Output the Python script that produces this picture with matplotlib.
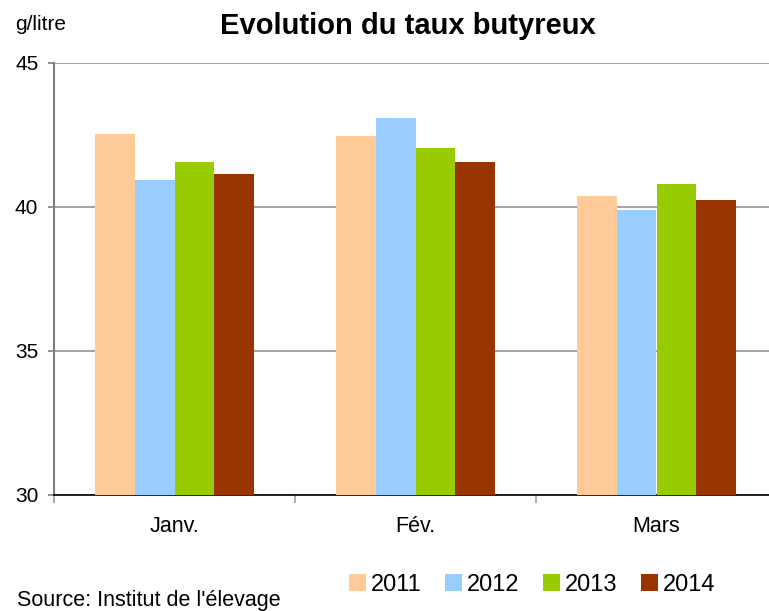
import matplotlib
matplotlib.use("Agg")
import matplotlib.pyplot as plt
import numpy as np
from matplotlib.patches import Patch

plt.rcParams['font.family'] = ['Liberation Sans', 'DejaVu Sans']

categories = ["Janv.", "Fév.", "Mars"]
years = ["2011", "2012", "2013", "2014"]
v2011 = [42.53, 42.47, 40.38]
v2012 = [40.94, 43.09, 39.90]
v2013 = [41.56, 42.05, 40.80]
v2014 = [41.15, 41.56, 40.24]
series = [v2011, v2012, v2013, v2014]
colors = ["#FFCC99", "#99CCFF", "#99CC00", "#993300"]

W, H = 769, 611
fig = plt.figure(figsize=(W / 100, H / 100), dpi=100)
ax = fig.add_axes([54 / W, (H - 495) / H, 723 / W, 432 / H])

x = np.arange(len(categories))
bw = 0.164
for i, (vals, c) in enumerate(zip(series, colors)):
    ax.bar(x + (i - 1.5) * bw, vals, width=bw, color=c, zorder=3, label=years[i])

ax.set_ylim(30, 45)
ax.set_xlim(-0.5, 2.5)
ax.set_yticks([30, 35, 40, 45])
ax.set_yticklabels(["30", "35", "40", "45"], fontsize=15)
ax.yaxis.grid(True, color="#A6A6A6", linewidth=1.5, zorder=0)
ax.set_xticks([-0.5, 0.5, 1.5, 2.5])
ax.set_xticklabels([])
ax.set_xticks(x, minor=True)
ax.set_xticklabels(categories, minor=True, fontsize=15.5)
ax.tick_params(axis="x", which="minor", length=0, pad=15)
ax.tick_params(axis="x", which="major", length=6, width=1.2, color="#A0A0A0", direction="out")
ax.tick_params(axis="y", length=4.3, width=1.2, color="#808080", direction="out", pad=7)
for s in ["top", "right"]:
    ax.spines[s].set_visible(False)
ax.spines["left"].set_color("#808080")
ax.spines["left"].set_linewidth(1.5)
ax.spines["bottom"].set_color("#000000")
ax.spines["bottom"].set_linewidth(1.2)

fig.text(408 / W, 1 - 34 / H, "Evolution du taux butyreux", fontsize=21,
         fontweight="bold", ha="center", va="baseline")
fig.text(15 / W, 1 - 30 / H, "g/litre", fontsize=15, ha="left", va="baseline")
fig.text(17 / W, 1 - 606 / H, "Source: Institut de l'élevage", fontsize=15.5,
         ha="left", va="baseline")

handles = [Patch(facecolor=c, edgecolor="none") for c in colors]
fig.legend(handles, years, loc="center", bbox_to_anchor=(532 / W, 1 - 585 / H),
           ncol=4, frameon=False, fontsize=17, handlelength=0.72, handleheight=0.72,
           handletextpad=0.2, columnspacing=1.0, borderpad=0)

fig.savefig("out.png", dpi=100)
